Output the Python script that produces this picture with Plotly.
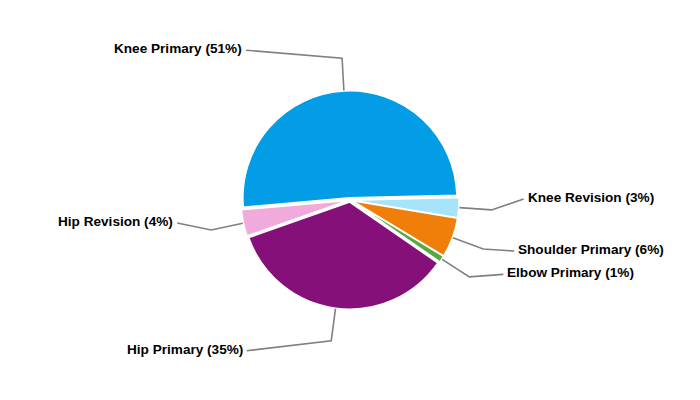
import math
import plotly.graph_objects as go

# ---- data ----
categories = ["Knee Primary", "Knee Revision", "Shoulder Primary",
              "Elbow Primary", "Hip Primary", "Hip Revision"]
shares = [51, 3, 6, 1, 35, 4]
colors = ["#029DE6", "#A6E4FA", "#F07F0A", "#5AA843", "#861079", "#F1AADC"]

# ---- layout / style ----
W, H = 700, 400
CX, CY = 350, 200          # pie centre (px)
R = 107                    # pie radius (px)
PULL = 0.02
ROTATION = 265             # start angle, clockwise from 12 o'clock
ELBOW_R = 142              # radius of leader-line elbow (px)
LINE_COLOR = "#808080"
FONT = "Liberation Sans, Arial, sans-serif"
# leader-line end offset from the elbow, per category (px)
label_offsets = {
    "Knee Primary": (-96, -8),
    "Knee Revision": (32, -11),
    "Shoulder Primary": (31, 2),
    "Elbow Primary": (34, -2.5),
    "Hip Primary": (-84.5, 10),
    "Hip Revision": (-34, -7),
}


def px(x):
    return x / W


def py(y):
    return 1 - y / H


def polar(a_deg, r):
    a = math.radians(a_deg)
    return CX + r * math.sin(a), CY - r * math.cos(a)


half = R * (1 + PULL)
fig = go.Figure(go.Pie(
    labels=categories,
    values=shares,
    sort=False,
    direction="clockwise",
    rotation=ROTATION,
    pull=PULL,
    textinfo="none",
    hoverinfo="label+percent",
    marker=dict(colors=colors, line=dict(color="white", width=1.5)),
    showlegend=False,
    domain=dict(x=[px(CX - half), px(CX + half)],
                y=[py(CY + half), py(CY - half)]),
))

total = sum(shares)
shapes, annotations = [], []
start = ROTATION
for cat, v in zip(categories, shares):
    span = v / total * 360
    mid = start + span / 2
    start += span
    x0, y0 = polar(mid, R * (1 + PULL) + 0.5)
    x1, y1 = polar(mid, ELBOW_R)
    dx, dy = label_offsets[cat]
    x2, y2 = x1 + dx, y1 + dy
    shapes.append(dict(
        type="path", xref="paper", yref="paper",
        path=f"M {px(x0)} {py(y0)} L {px(x1)} {py(y1)} L {px(x2)} {py(y2)}",
        line=dict(color=LINE_COLOR, width=1.6),
    ))
    right = dx > 0
    annotations.append(dict(
        x=px(x2 + (2 if right else -2)), y=py(y2),
        xref="paper", yref="paper",
        xanchor="left" if right else "right", yanchor="middle",
        yshift=1.5,
        text=f"<b>{cat} ({round(v / total * 100)}%)</b>",
        showarrow=False,
        font=dict(family=FONT, size=13.6, color="#000000"),
    ))

fig.update_layout(
    width=W, height=H,
    margin=dict(l=0, r=0, t=0, b=0),
    paper_bgcolor="white",
    plot_bgcolor="white",
    shapes=shapes,
    annotations=annotations,
)

fig.write_html("out.html",
               config={"displayModeBar": False},
               post_script="document.body.style.margin='0px';")
